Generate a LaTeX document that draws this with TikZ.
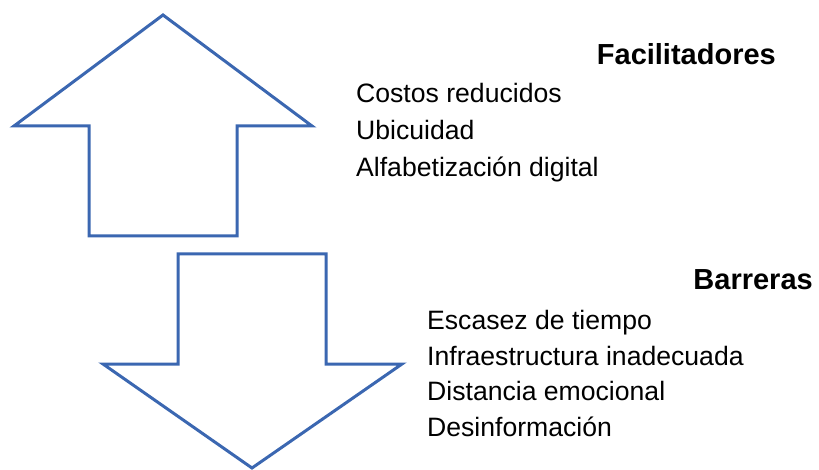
\documentclass[tikz,border=0pt]{standalone}
\usepackage{fontspec}
\setmainfont{Liberation Sans}
\usepackage{tikz}
\definecolor{flecha}{RGB}{59,103,177}
\tikzset{
	contorno/.style={draw=flecha, line width=3pt, line join=miter},
	lista/.style={anchor=base west, inner sep=0pt, font=\fontsize{26.6}{32}\selectfont},
	titulo/.style={anchor=base east, inner sep=0pt, font=\fontsize{29}{34}\selectfont\bfseries}
}

\begin{document}
\begin{tikzpicture}[x=1pt, y=-1pt]
		%%%%% START %%%%%
		\useasboundingbox (0, 0) rectangle (819, 470);
		
		% flecha hacia arriba
		\draw[contorno] (163, 15) -- (312, 126) -- (237, 126) -- (237, 236)
			-- (89, 236) -- (89, 126) -- (14, 126) -- cycle;
		
		% flecha hacia abajo
		\draw[contorno] (178, 254) -- (326, 254) -- (326, 364) -- (402, 364)
			-- (252, 468) -- (103, 364) -- (178, 364) -- cycle;
		
		\node[titulo] (facil) at (776, 65) {Facilitadores};
		\node[lista] (costos) at (356, 103) {Costos reducidos};
		\node[lista] (ubic) at (356, 140) {Ubicuidad};
		\node[lista] (alfab) at (356, 177) {Alfabetización digital};
		
		\node[titulo] (barr) at (813, 290) {Barreras};
		\node[lista] (escasez) at (427, 329) {Escasez de tiempo};
		\node[lista] (infra) at (427, 365) {Infraestructura inadecuada};
		\node[lista] (dist) at (427, 400) {Distancia emocional};
		\node[lista] (desinf) at (427, 436) {Desinformación};
		
		%%%%% END %%%%%
	\end{tikzpicture}
\end{document}
